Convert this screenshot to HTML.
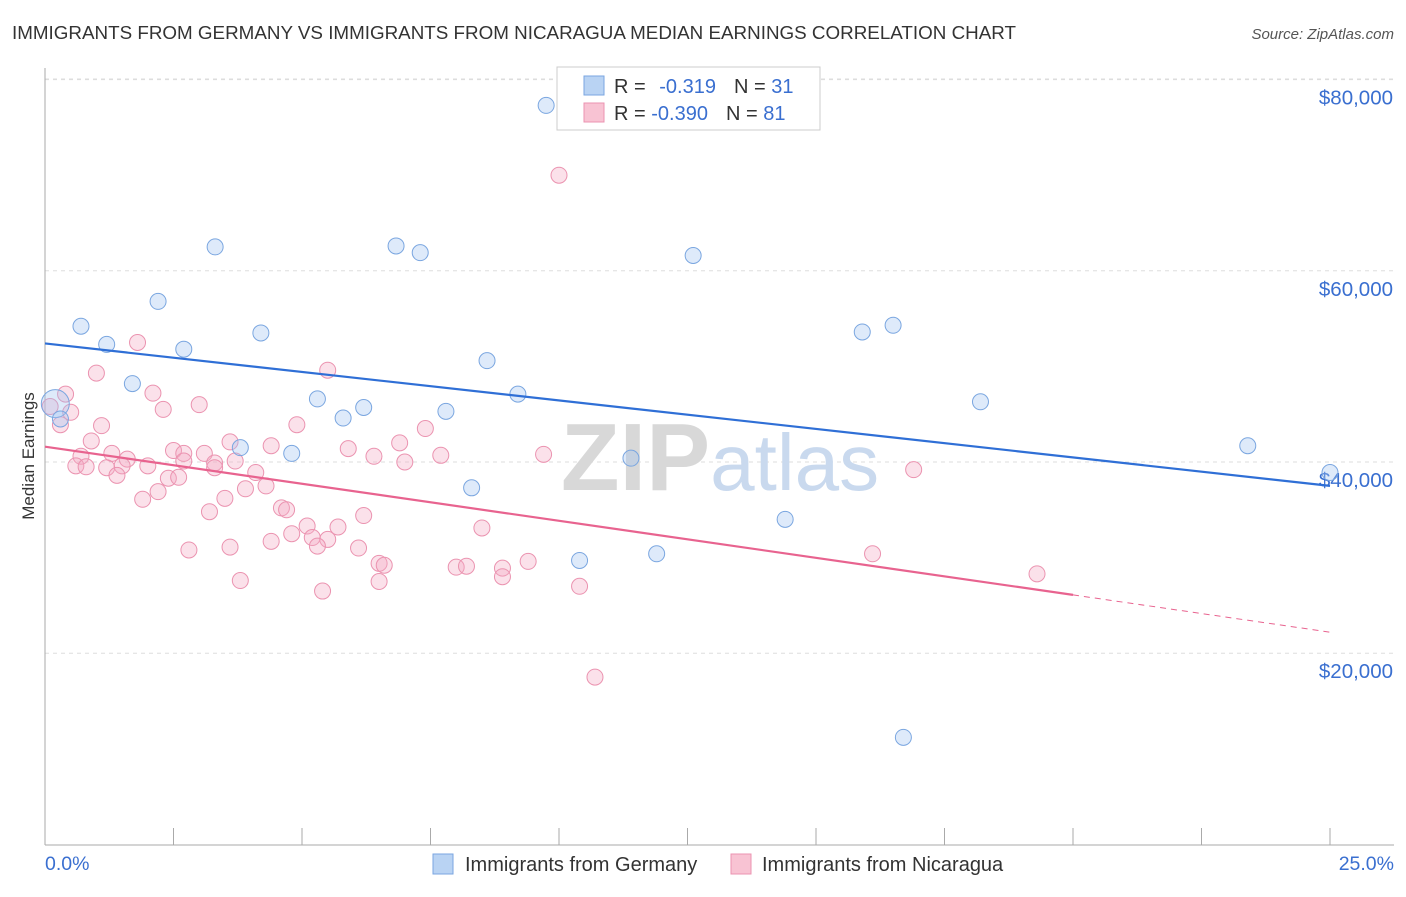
<!DOCTYPE html>
<html><head><meta charset="utf-8"><style>
body{margin:0;background:#fff;font-family:"Liberation Sans",sans-serif;}
svg text{font-family:"Liberation Sans",sans-serif;}
</style></head><body>
<svg id="chart" width="1406" height="892" xmlns="http://www.w3.org/2000/svg">
<text x="12" y="39" font-size="18.5" fill="#333" textLength="1004" lengthAdjust="spacingAndGlyphs">IMMIGRANTS FROM GERMANY VS IMMIGRANTS FROM NICARAGUA MEDIAN EARNINGS CORRELATION CHART</text>
<text x="1394" y="39" font-size="15" fill="#555" font-style="italic" text-anchor="end">Source: ZipAtlas.com</text>
<g id="grid"></g>
<text x="720" y="490" font-size="96" text-anchor="middle" fill="#ddd" font-family="Liberation Serif"><tspan font-weight="bold" fill="#d8d8d8">ZIP</tspan><tspan fill="#c9d9ee" font-family="Liberation Sans" font-size="80">atlas</tspan></text>
<line x1="45" y1="68" x2="45" y2="845" stroke="#aaa"/>
<line x1="45" y1="845" x2="1394" y2="845" stroke="#aaa"/>
<text transform="translate(34,456) rotate(-90)" font-size="17" fill="#333" text-anchor="middle">Median Earnings</text>
<text x="45" y="870" font-size="19.5" fill="#3a6fd0">0.0%</text>
<text x="1394" y="870" font-size="19.5" fill="#3a6fd0" text-anchor="end">25.0%</text>
<g id="marks"></g>
<g>
<rect x="557" y="67" width="263" height="63" fill="#fff" stroke="#ccc"/>
<rect x="584" y="76" width="20" height="19" fill="#b9d3f3" stroke="#7aa6e0"/>
<rect x="584" y="103" width="20" height="19" fill="#f8c3d3" stroke="#eb93b0"/>
<text x="614" y="93" font-size="20" fill="#333">R = <tspan dx="8" fill="#3a6fd0">-0.319</tspan><tspan dx="18">N = </tspan><tspan fill="#3a6fd0">31</tspan></text>
<text x="614" y="120" font-size="20" fill="#333">R = <tspan fill="#3a6fd0">-0.390</tspan><tspan dx="18">N = </tspan><tspan fill="#3a6fd0">81</tspan></text>
</g>
<g>
<rect x="433" y="854" width="20" height="20" fill="#b9d3f3" stroke="#7aa6e0"/>
<text x="465" y="871" font-size="20" fill="#333">Immigrants from Germany</text>
<rect x="731" y="854" width="20" height="20" fill="#f8c3d3" stroke="#eb93b0"/>
<text x="762" y="871" font-size="20" fill="#333">Immigrants from Nicaragua</text>
</g>
</svg>
<script>
const yTicks=[20000,40000,60000,80000];
const yTickLabels=["$20,000","$40,000","$60,000","$80,000"];
const xTicks=[0,2.5,5,7.5,10,12.5,15,17.5,20,22.5,25];
const germanyX=[9.75,3.31,6.83,7.3,12.61,2.2,0.7,4.2,15.9,16.5,1.2,2.7,8.6,1.7,9.2,5.3,6.2,5.8,7.8,18.2,0.2,0.3,3.8,4.8,11.4,23.4,25.0,8.3,14.4,10.4,11.9,16.7];
const germanyY=[77300,62500,62600,61900,61600,56800,54200,53500,53600,54300,52300,51800,50600,48200,47100,46600,45700,44600,45300,46300,46100,44500,41500,40900,40400,41700,38900,37300,34000,29700,30400,11200];
const nicaraguaX=[10.0,1.8,5.5,1.0,0.4,2.1,3.0,2.3,0.5,0.1,0.3,1.1,4.9,0.9,3.6,4.4,5.9,6.9,7.4,7.7,9.7,1.3,0.7,2.5,2.7,3.1,1.6,2.7,3.3,3.7,0.6,0.8,1.2,1.5,2.0,3.3,4.1,7.0,6.4,1.4,2.4,2.6,4.3,3.9,2.2,1.9,3.5,3.2,4.6,4.7,6.2,5.1,5.7,8.5,4.8,5.2,5.5,5.3,4.4,2.8,3.6,6.1,6.5,6.6,8.0,8.2,8.9,9.4,3.8,8.9,6.5,10.4,5.4,16.1,16.9,19.3,10.7];
const nicaraguaY=[70000,52500,49600,49300,47100,47200,46000,45500,45200,45800,43900,43800,43900,42200,42100,41700,41400,42000,43500,40700,40800,40900,40600,41200,40900,40900,40300,40100,39900,40100,39600,39500,39400,39600,39600,39400,38900,40000,40600,38600,38300,38400,37500,37200,36900,36100,36200,34800,35200,35000,34400,33300,33200,33100,32500,32100,31900,31200,31700,30800,31100,31000,29400,29200,29000,29100,28900,29600,27600,28000,27500,27000,26500,30400,39200,28300,17500];
const germanyTrend=[0,52400,25,37500];
const nicaraguaTrend=[0,41600,20,26100,25,22200];
const X=v=>45+v/25*1285, Y=v=>462-(v-40000)*191.2/20000;
const NS="http://www.w3.org/2000/svg";
function mk(tag,attrs,parent){const e=document.createElementNS(NS,tag);for(const k in attrs)e.setAttribute(k,attrs[k]);parent.appendChild(e);return e;}
const grid=document.getElementById('grid'),marks=document.getElementById('marks');
yTicks.forEach((t,i)=>{
 const l=mk('line',{x1:45,x2:1394,y1:Y(t),y2:Y(t),stroke:'#ddd','stroke-dasharray':'4,4'},grid);
 
 
 const tx=mk('text',{x:1393,y:Y(t)+25,'font-size':20.5,fill:'#3a6fd0','text-anchor':'end'},grid);
 tx.textContent=yTickLabels[i];
 
 
});
const tl=mk('line',{x1:45,x2:1394,y1:79,y2:79,stroke:'#ddd','stroke-dasharray':'4,4'},grid);


xTicks.forEach(t=>{
 const l=mk('line',{x1:X(t),x2:X(t),y1:828,y2:845,stroke:'#aaa'},grid);
 
 
});
nicaraguaX.forEach((x,i)=>{
 const c=mk('circle',{cx:X(x),cy:Y(nicaraguaY[i]),r:8,fill:'rgba(244,170,195,0.35)',stroke:'#eb93b0','stroke-width':1},marks);
 
 
});
germanyX.forEach((x,i)=>{
 const c=mk('circle',{cx:X(x),cy:Y(germanyY[i]),r:i==20?14:8,fill:'rgba(160,195,240,0.35)',stroke:'#7aa6e0','stroke-width':1},marks);
 
 
});
const gl=mk('line',{x1:X(germanyTrend[0]),y1:Y(germanyTrend[1]),x2:X(germanyTrend[2]),y2:Y(germanyTrend[3]),stroke:'#2f6fd6','stroke-width':2.2},marks);


const nl=mk('line',{x1:X(nicaraguaTrend[0]),y1:Y(nicaraguaTrend[1]),x2:X(nicaraguaTrend[2]),y2:Y(nicaraguaTrend[3]),stroke:'#e8638f','stroke-width':2.2},marks);


const nd=mk('line',{x1:X(nicaraguaTrend[2]),y1:Y(nicaraguaTrend[3]),x2:X(nicaraguaTrend[4]),y2:Y(nicaraguaTrend[5]),stroke:'#e8638f','stroke-width':1,'stroke-dasharray':'6,5'},marks);


</script>
</body></html>
